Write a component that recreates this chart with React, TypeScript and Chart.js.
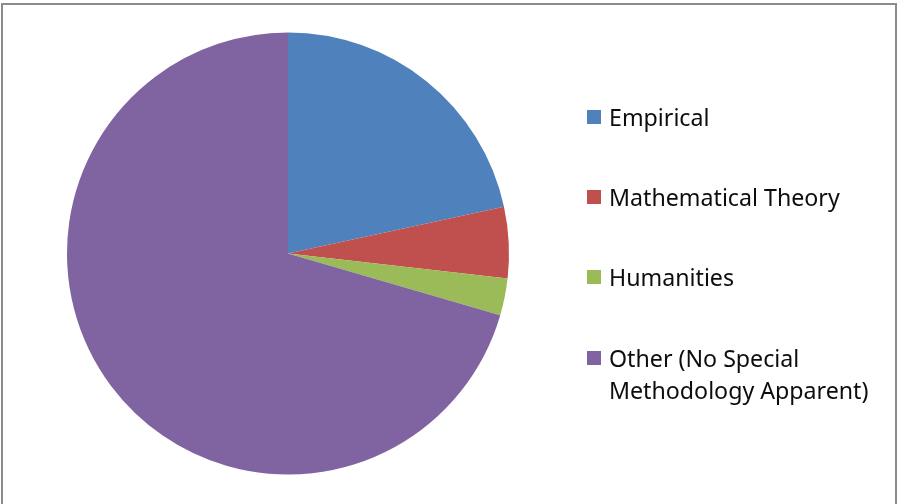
import React, { useEffect, useRef } from "react";
import { Chart, registerables } from "chart.js";

Chart.register(...registerables);

const categories = [
  "Empirical",
  "Mathematical Theory",
  "Humanities",
  "Other (No Special Methodology Apparent)",
];
const legendLines = [
  ["Empirical"],
  ["Mathematical Theory"],
  ["Humanities"],
  ["Other (No Special", "Methodology Apparent)"],
];
const values = [21.6, 5.2, 2.7, 70.5];
const colors = ["#4F81BD", "#C0504D", "#9BBB59", "#8064A2"];

const legendTops = [101, 181, 261, 342];

export default function App() {
  const canvasRef = useRef<HTMLCanvasElement | null>(null);

  useEffect(() => {
    const canvas = canvasRef.current;
    if (!canvas) return;
    const chart = new Chart(canvas, {
      type: "pie",
      data: {
        labels: categories,
        datasets: [
          {
            data: values,
            backgroundColor: colors,
            borderWidth: 0,
          },
        ],
      },
      options: {
        animation: false,
        responsive: false,
        maintainAspectRatio: false,
        layout: { padding: { left: 67, right: 388, top: 32, bottom: 29 } },
        plugins: {
          legend: { display: false },
          tooltip: { enabled: false },
        },
      },
    });
    return () => chart.destroy();
  }, []);

  return (
    <div
      style={{
        position: "absolute",
        left: 0,
        top: 0,
        width: 897,
        height: 504,
        background: "#fff",
        overflow: "hidden",
      }}
    >
      <div
        style={{
          position: "absolute",
          left: 1,
          top: 3,
          width: 892,
          height: 499,
          borderTop: "2px solid #8c8c8c",
          borderLeft: "2px solid #8c8c8c",
          borderRight: "2px solid #8c8c8c",
          borderBottom: "1px solid #d9d9d9",
        }}
      />
      <canvas
        ref={canvasRef}
        width={897}
        height={504}
        style={{ position: "absolute", left: 0, top: 0 }}
      />
      {legendLines.map((lines, i) => (
        <div
          key={i}
          style={{
            position: "absolute",
            left: 587,
            top: legendTops[i],
            fontFamily: "'Noto Sans', 'Open Sans', sans-serif",
            fontSize: 23.2,
            lineHeight: "32px",
            color: "#0d0d0d",
            whiteSpace: "nowrap",
          }}
        >
          <span
            style={{
              position: "absolute",
              left: 0,
              top: 9,
              width: 14,
              height: 14,
              background: colors[i],
            }}
          />
          <div style={{ marginLeft: 22 }}>
            {lines.map((l, j) => (
              <div key={j}>{l}</div>
            ))}
          </div>
        </div>
      ))}
    </div>
  );
}
